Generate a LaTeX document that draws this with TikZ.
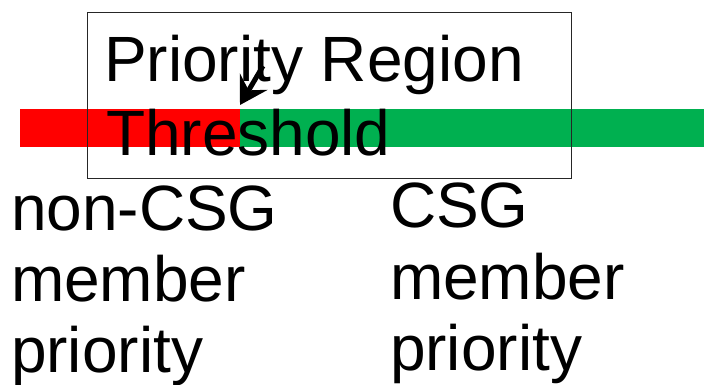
\documentclass[tikz,border=0pt]{standalone}
\usepackage{fontspec}
\setmainfont{Liberation Sans}
\usetikzlibrary{arrows.meta}
\definecolor{barred}{HTML}{FF0000}
\definecolor{bargreen}{HTML}{00B050}
\begin{document}
\begin{tikzpicture}[x=1pt,y=-1pt,
  lbl/.style={anchor=base west,inner sep=0pt,outer sep=0pt,font=\fontsize{64}{72}\selectfont},
  regionbox/.style={draw=black!85,line width=1.4pt},
  ptr/.style={line width=5pt,-{Stealth[length=27pt,width=32pt,inset=10pt]}}]
\useasboundingbox (0,0) rectangle (704,385);
% bars
\fill[barred] (20,109) rectangle (240,147);
\fill[bargreen] (240,109) rectangle (704,147);
% box
\node[regionbox,inner sep=0pt,minimum width=484.5pt,minimum height=166pt,anchor=north west] (box) at (86.5,12) {};
% texts
\node[lbl] (pr) at (104,82) {Priority Region};
\node[lbl] (th) at (106,155) {Threshold};
\node[lbl] (n1) at (11,230) {non-CSG};
\node[lbl] (n2) at (11,301) {member};
\node[lbl] (n3) at (11,372) {priority};
\node[lbl] (c1) at (390,227) {CSG};
\node[lbl] (c2) at (390,299) {member};
\node[lbl] (c3) at (390,370) {priority};
% arrow
\coordinate (as) at (263,66);
\coordinate (at) at (240,105);
\draw[ptr] (as) -- (at);
\end{tikzpicture}
\end{document}
